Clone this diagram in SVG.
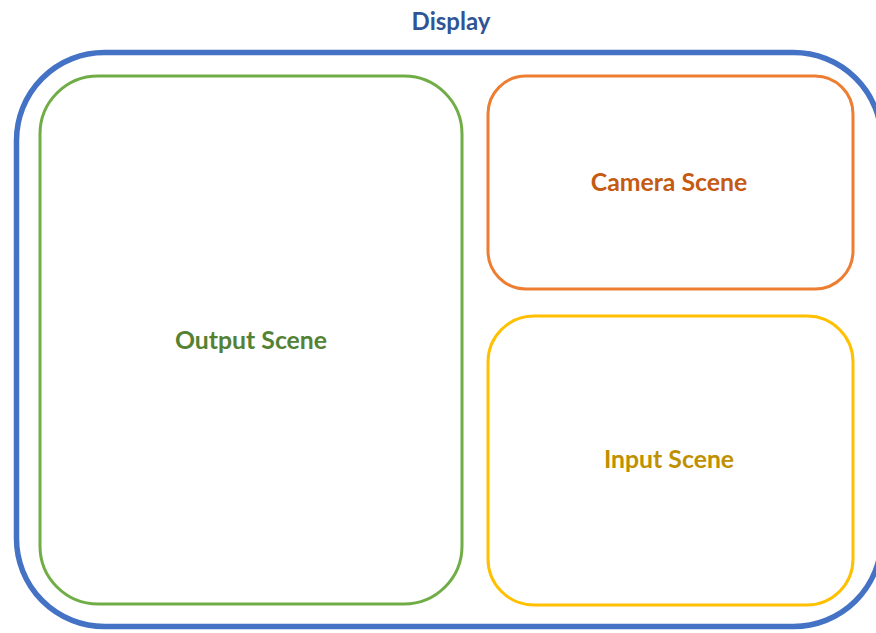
<svg xmlns="http://www.w3.org/2000/svg" width="876" height="633" viewBox="0 0 876 633">
<style>
text{font-family:Lato,"Open Sans","Liberation Sans",sans-serif;font-weight:bold;text-anchor:middle;dominant-baseline:central}
.box{fill:none}
</style>
<rect width="876" height="633" fill="#fff"/>
<g id="display">
<rect class="box" x="16.5" y="52.5" width="865" height="574" rx="88" stroke="#4472C4" stroke-width="5.5"/>
<text x="451" y="20.5" font-size="24" fill="#2F5597">Display</text>
</g>
<g id="output">
<rect class="box" x="40" y="76" width="422" height="528" rx="58" stroke="#70AD47" stroke-width="3"/>
<text x="251" y="339.5" font-size="24.8" fill="#548235">Output Scene</text>
</g>
<g id="camera">
<rect class="box" x="488" y="76" width="365" height="213" rx="38" stroke="#ED7D31" stroke-width="3"/>
<text x="669" y="181.5" font-size="24.8" fill="#C55A11">Camera Scene</text>
</g>
<g id="input">
<rect class="box" x="488" y="316" width="365" height="289" rx="46" stroke="#FFC000" stroke-width="3"/>
<text x="669" y="458.5" font-size="24.8" fill="#BF9000">Input Scene</text>
</g>
<g id="connectors"></g>
</svg>
